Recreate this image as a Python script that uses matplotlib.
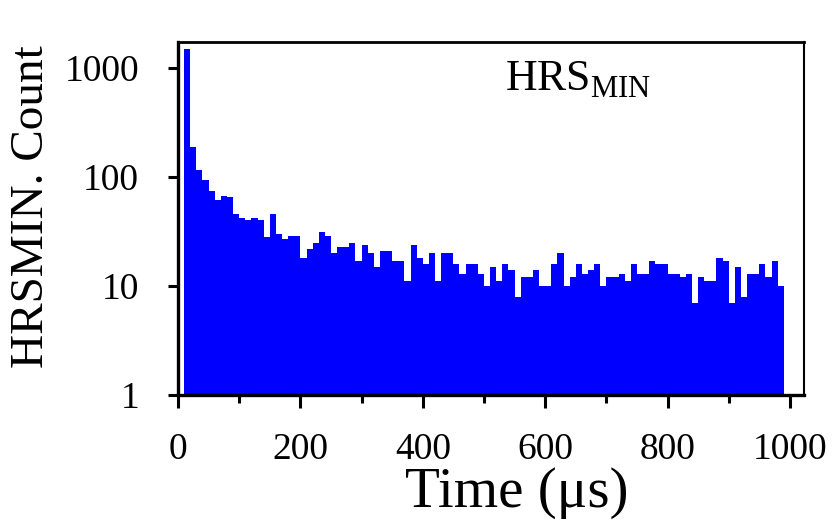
import numpy as np
import matplotlib
matplotlib.use("Agg")
import matplotlib.pyplot as plt
from matplotlib.ticker import FixedLocator, FixedFormatter, MultipleLocator, NullLocator

plt.rcParams['font.family'] = ['Liberation Serif', 'DejaVu Serif']
plt.rcParams['mathtext.fontset'] = 'custom'
plt.rcParams['mathtext.rm'] = 'Liberation Serif'

# Histogram of event times, 10 us bins from 10 to 990 us
bin_edges = list(range(10, 1000, 10))
counts = [
    1500, 187, 116, 94, 75, 61, 67, 65, 46, 42,
    40, 42, 40, 28, 46, 30, 27, 29, 29, 18,
    22, 25, 31, 29, 20, 23, 23, 25, 17, 24,
    20, 15, 21, 21, 17, 17, 11, 24, 18, 16,
    20, 11, 20, 20, 16, 13, 16, 16, 13, 10,
    15, 11, 16, 14, 8, 12, 12, 14, 10, 10,
    16, 20, 10, 12, 16, 13, 14, 16, 10, 12,
    12, 13, 11, 16, 13, 13, 17, 16, 16, 13,
    13, 12, 13, 7, 12, 11, 11, 18, 17, 7,
    15, 8, 13, 13, 16, 12, 17, 10,
]
x_ticks = [0, 200, 400, 600, 800, 1000]
y_ticks = [1, 10, 100, 1000]
y_tick_labels = ['1', '10', '100', '1000']

fig = plt.figure(figsize=(8.4, 5.27), dpi=100)
ax = fig.add_axes([178 / 840, 1 - 395 / 527, 626 / 840, 353 / 527])

ax.stairs(counts, bin_edges, fill=True, color='#0000ff', baseline=1)

ax.set_yscale('log')
ax.set_xlim(0, 1023)
ax.set_ylim(1, 1730)

ax.xaxis.set_major_locator(FixedLocator(x_ticks))
ax.xaxis.set_minor_locator(MultipleLocator(100))
ax.yaxis.set_major_locator(FixedLocator(y_ticks))
ax.yaxis.set_major_formatter(FixedFormatter(y_tick_labels))
ax.yaxis.set_minor_locator(NullLocator())

ax.tick_params(axis='both', which='major', direction='out', width=2.2,
               labelsize=27, color='black')
ax.tick_params(axis='x', which='major', length=9, pad=18)
ax.tick_params(axis='x', which='minor', direction='out', length=6, width=2.2)
ax.tick_params(axis='y', which='major', length=7, pad=21)

for side in ('left', 'bottom'):
    ax.spines[side].set_linewidth(2.4)
ax.spines['top'].set_linewidth(2.0)
ax.spines['right'].set_linewidth(1.5)

ax.text(-0.233, 0.533, 'HRSMIN. Count', transform=ax.transAxes,
        rotation=90, ha='center', va='center', fontsize=34)
ax.text(0.5415, -0.317, 'Time (\u03bcs)', transform=ax.transAxes,
        ha='center', va='baseline', fontsize=41)
ax.text((505 - 178) / 626, (395 - 90.7) / 353, r'$\mathrm{HRS}_{\mathrm{MIN}}$',
        transform=ax.transAxes, ha='left', va='baseline', fontsize=31.5)

fig.savefig('out.png', dpi=100)
